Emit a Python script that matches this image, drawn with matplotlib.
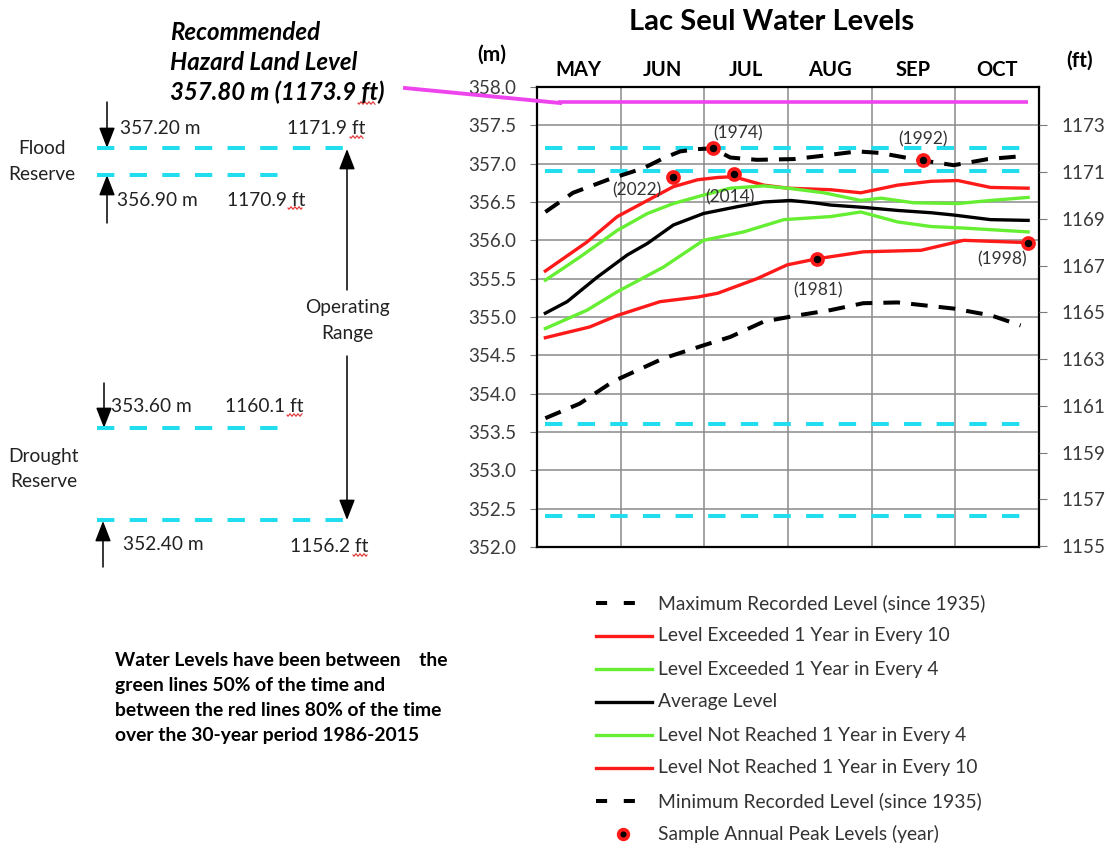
import matplotlib
matplotlib.use('Agg')
import matplotlib.pyplot as plt
from matplotlib.lines import Line2D
import numpy as np

plt.rcParams['font.family'] = ['Lato', 'DejaVu Sans']
plt.rcParams['lines.scale_dashes'] = False

W, H = 1107, 844

# ---------------- data ----------------
months = ['MAY', 'JUN', 'JUL', 'AUG', 'SEP', 'OCT']
m_ticks = [352.0, 352.5, 353.0, 353.5, 354.0, 354.5, 355.0, 355.5,
           356.0, 356.5, 357.0, 357.5, 358.0]
ft_ticks = [1155, 1157, 1159, 1161, 1163, 1165, 1167, 1169, 1171, 1173]

# x in months since 1 May
max_t = [0.10, 0.43, 0.87, 1.27, 1.51, 1.71, 1.92, 2.10, 2.31, 2.63, 3.07,
         3.39, 3.83, 4.10, 4.50, 4.98, 5.39, 5.82]
max_v = [356.37, 356.62, 356.80, 356.94, 357.07, 357.16, 357.19, 357.20,
         357.08, 357.05, 357.06, 357.10, 357.16, 357.14, 357.06, 356.98,
         357.06, 357.10]

ex10_t = [0.10, 0.60, 0.96, 1.32, 1.63, 1.92, 2.16, 2.35, 2.71, 3.00, 3.51,
          3.87, 4.31, 4.71, 5.03, 5.42, 5.87]
ex10_v = [355.60, 355.98, 356.31, 356.52, 356.70, 356.79, 356.82, 356.83,
          356.72, 356.68, 356.66, 356.62, 356.72, 356.77, 356.78, 356.69,
          356.68]

ex4_t = [0.10, 0.51, 0.96, 1.32, 1.63, 1.99, 2.31, 2.71, 3.00, 3.43, 3.87,
         4.11, 4.50, 5.03, 5.42, 5.87]
ex4_v = [355.48, 355.78, 356.13, 356.35, 356.48, 356.59, 356.68, 356.71,
         356.68, 356.62, 356.52, 356.55, 356.49, 356.48, 356.52, 356.56]

avg_t = [0.10, 0.36, 0.72, 1.08, 1.32, 1.63, 1.99, 2.40, 2.71, 3.03, 3.31,
         3.51, 3.90, 4.31, 4.71, 4.98, 5.42, 5.87]
avg_v = [355.05, 355.20, 355.52, 355.81, 355.96, 356.20, 356.35, 356.44,
         356.50, 356.52, 356.49, 356.46, 356.43, 356.39, 356.36, 356.33,
         356.27, 356.26]

nr4_t = [0.10, 0.60, 0.96, 1.51, 1.99, 2.47, 2.95, 3.51, 3.87, 4.31, 4.71,
         5.10, 5.87]
nr4_v = [354.85, 355.09, 355.33, 355.65, 356.00, 356.11, 356.27, 356.31,
         356.37, 356.24, 356.18, 356.16, 356.11]

nr10_t = [0.10, 0.63, 0.96, 1.47, 1.92, 2.16, 2.63, 2.99, 3.35, 3.90, 4.59,
          5.10, 5.87]
nr10_v = [354.73, 354.87, 355.02, 355.20, 355.26, 355.31, 355.50, 355.68,
          355.76, 355.85, 355.87, 356.00, 355.97]

min_t = [0.10, 0.51, 0.91, 1.51, 1.99, 2.31, 2.71, 3.11, 3.51, 3.90, 4.31,
         4.98, 5.43, 5.78]
min_v = [353.68, 353.87, 354.16, 354.46, 354.63, 354.74, 354.94, 355.02,
         355.09, 355.18, 355.19, 355.11, 355.02, 354.89]

peak_years = ['1974', '2022', '2014', '1992', '1981', '1998']
peak_t = [2.10, 1.63, 2.36, 4.61, 3.35, 5.87]
peak_v = [357.20, 356.82, 356.86, 357.05, 355.76, 355.97]

reserve_levels = [357.20, 356.90, 353.60, 352.40]
hazard_level = 357.80

legend_labels = ['Maximum Recorded Level (since 1935)',
                 'Level Exceeded 1 Year in Every 10',
                 'Level Exceeded 1 Year in Every 4',
                 'Average Level',
                 'Level Not Reached 1 Year in Every 4',
                 'Level Not Reached 1 Year in Every 10',
                 'Minimum Recorded Level (since 1935)',
                 'Sample Annual Peak Levels (year)']

note_lines = ['Water Levels have been between    the',
              'green lines 50% of the time and',
              'between the red lines 80% of the time',
              'over the 30-year period 1986-2015']

# ---------------- styles ----------------
RED = '#FF1A1A'
GREEN = '#66EE33'
CYAN = '#22DDEE'
MAG = '#EE44EE'
TICKC = '#3a3a3a'
BLK_DASH = (0, (12, 8))
CY_DASH = (0, (12.5, 11))
LW = 2.4

fig = plt.figure(figsize=(W / 100, H / 100), dpi=100)


def fx(px):
    return px / W


def fy(py):
    return 1 - py / H


ax = fig.add_axes([fx(537), fy(547), (1039 - 537) / W, (547 - 87) / H])
ax.set_xlim(0, 6)
ax.set_ylim(352, 358)

# grid
ax.set_yticks(m_ticks)
ax.set_yticklabels([f'{v:.1f}' for v in m_ticks])
ax.set_xticks([i + 0.5 for i in range(6)])
ax.set_xticklabels(months)
ax.set_xticks([1, 2, 3, 4, 5], minor=True)
ax.grid(which='minor', axis='x', color='#8a8a8a', lw=1.1)
ax.grid(which='major', axis='y', color='#8a8a8a', lw=1.1)
ax.tick_params(axis='x', which='both', length=0, top=True, bottom=False,
               labeltop=True, labelbottom=False, pad=5, labelsize=14.5)
for lab in ax.get_xticklabels():
    lab.set_fontweight('bold')
ax.tick_params(axis='y', which='major', length=5, width=0.8, color='#7a7a7a',
               pad=10, labelsize=13.5, labelcolor=TICKC)
for sp in ax.spines.values():
    sp.set_linewidth(1.6)
    sp.set_color('black')
ax.set_axisbelow(True)

ax2 = ax.twinx()
ax2.set_ylim(1154.96, 1154.96 + 6 / 0.3048)
ax2.set_yticks(ft_ticks)
ax2.tick_params(axis='y', length=6, width=0.8, color='#7a7a7a', pad=10,
                labelsize=13.5, labelcolor=TICKC)
for sp in ax2.spines.values():
    sp.set_visible(False)

# reserve lines
for lv in reserve_levels:
    ax.plot([0.1, 5.85], [lv, lv], color=CYAN, lw=2.9, ls=CY_DASH, zorder=2)

# hazard line
ax.plot([0.25, 5.87], [hazard_level, hazard_level], color=MAG, lw=2.6,
        zorder=3, solid_capstyle='butt')
fig.add_artist(Line2D([fx(405), fx(560)], [fy(88), fy(103)], color=MAG,
                      lw=2.8))

# series
ax.plot(min_t, min_v, color='black', lw=2.9, ls=BLK_DASH, zorder=3)
ax.plot(max_t, max_v, color='black', lw=2.9, ls=BLK_DASH, zorder=3)
ax.plot(nr10_t, nr10_v, color=RED, lw=LW, zorder=4)
ax.plot(ex10_t, ex10_v, color=RED, lw=LW, zorder=4)
ax.plot(nr4_t, nr4_v, color=GREEN, lw=LW, zorder=4)
ax.plot(ex4_t, ex4_v, color=GREEN, lw=LW, zorder=4)
ax.plot(avg_t, avg_v, color='black', lw=LW, zorder=4)

ax.plot(peak_t, peak_v, 'o', ms=8, mfc='black', mec=RED, mew=2.6,
        zorder=6, clip_on=False)
label_off = [(18, 11), (-26, -9), (-3, -16.5), (0, 15), (0.7, -23), (-19, -12)]
for yr, t, v, off in zip(peak_years, peak_t, peak_v, label_off):
    ax.annotate(f'({yr})', (t, v), xytext=off, textcoords='offset points',
                ha='center', va='center', fontsize=12.5, color='#333333',
                zorder=7)

# title & units
fig.text(fx(772), fy(22), 'Lac Seul Water Levels', ha='center', va='center',
         fontsize=21, fontweight='bold')
fig.text(fx(492), fy(55), '(m)', ha='center', va='center', fontsize=15,
         fontweight='bold')
fig.text(fx(1080), fy(61), '(ft)', ha='center', va='center', fontsize=15,
         fontweight='bold')

# ---------------- left schematic ----------------
for (x0, x1, y) in [(97, 347, 148), (97, 280, 175), (97, 280, 428),
                    (97, 347, 520)]:
    fig.add_artist(Line2D([fx(x0), fx(x1)], [fy(y), fy(y)], color=CYAN,
                          lw=2.9, ls=CY_DASH))


def arrow(x, y0, y1):
    fig.add_artist(matplotlib.patches.FancyArrowPatch(
        (fx(x), fy(y0)), (fx(x), fy(y1)), transform=fig.transFigure,
        arrowstyle='-|>,head_length=0.9,head_width=0.35', mutation_scale=14,
        lw=1.1, color='black', shrinkA=0, shrinkB=0))


arrow(107, 102, 148)
arrow(107, 223, 175)
arrow(347, 290, 149)
arrow(347, 356, 520)
arrow(104, 383, 428)
arrow(103, 567, 521)

TS = 13.8
for txt, x, y in [('357.20 m', 120, 128), ('1171.9 ft', 287, 128),
                  ('356.90 m', 117, 200), ('1170.9 ft', 227, 200),
                  ('353.60 m', 111, 406), ('1160.1 ft', 225, 406),
                  ('352.40 m', 123, 544), ('1156.2 ft', 290, 546)]:
    fig.text(fx(x), fy(y), txt, ha='left', va='center', fontsize=TS,
             color='#222222')
for txt, x, y in [('Flood', 42, 149), ('Reserve', 42, 174),
                  ('Drought', 44, 457), ('Reserve', 44, 482),
                  ('Operating', 347, 308), ('Range', 347, 333)]:
    fig.text(fx(x), fy(y), txt, ha='center', va='center', fontsize=TS,
             color='#222222')

for txt, y in [('Recommended', 33), ('Hazard Land Level', 63),
               ('357.80 m (1173.9 ft)', 92)]:
    fig.text(fx(170), fy(y), txt, ha='left', va='center', fontsize=17.3,
             fontweight='bold', fontstyle='italic')

# spell-check squiggles under "ft"
for (x0, x1, y) in [(350, 363, 137), (288, 302, 208), (358, 375, 103),
                    (287, 302, 415), (353, 367, 555)]:
    xs = np.linspace(x0, x1, 30)
    ys = y + 1.2 * np.sin((xs - x0) / 2.0 * np.pi)
    fig.add_artist(Line2D(fx(xs), fy(ys), color='#E03030', lw=0.8))

for txt, y in zip(note_lines, [660, 685, 711, 736]):
    fig.text(fx(115), fy(y), txt, ha='left', va='center', fontsize=13.9,
             fontweight='bold')

# ---------------- legend ----------------
styles = [dict(color='black', lw=2.9, ls=(0, (8, 12))),
          dict(color=RED, lw=LW), dict(color=GREEN, lw=LW),
          dict(color='black', lw=LW), dict(color=GREEN, lw=LW),
          dict(color=RED, lw=LW), dict(color='black', lw=2.9, ls=(0, (8, 12))),
          None]
rows = [603, 636, 669, 702, 735, 768, 801, 834]
for lab, st, y in zip(legend_labels, styles, rows):
    if st is None:
        fig.add_artist(Line2D([fx(623)], [fy(y)], marker='o', ms=7, mfc='black',
                              mec=RED, mew=2.6, ls='none'))
    else:
        x1 = 642 if 'ls' in st else 652
        fig.add_artist(Line2D([fx(596), fx(x1)], [fy(y), fy(y)], **st))
    fig.text(fx(658), fy(y), lab, ha='left', va='center', fontsize=13.9,
             color='#333333')

fig.savefig('out.png', dpi=100)
